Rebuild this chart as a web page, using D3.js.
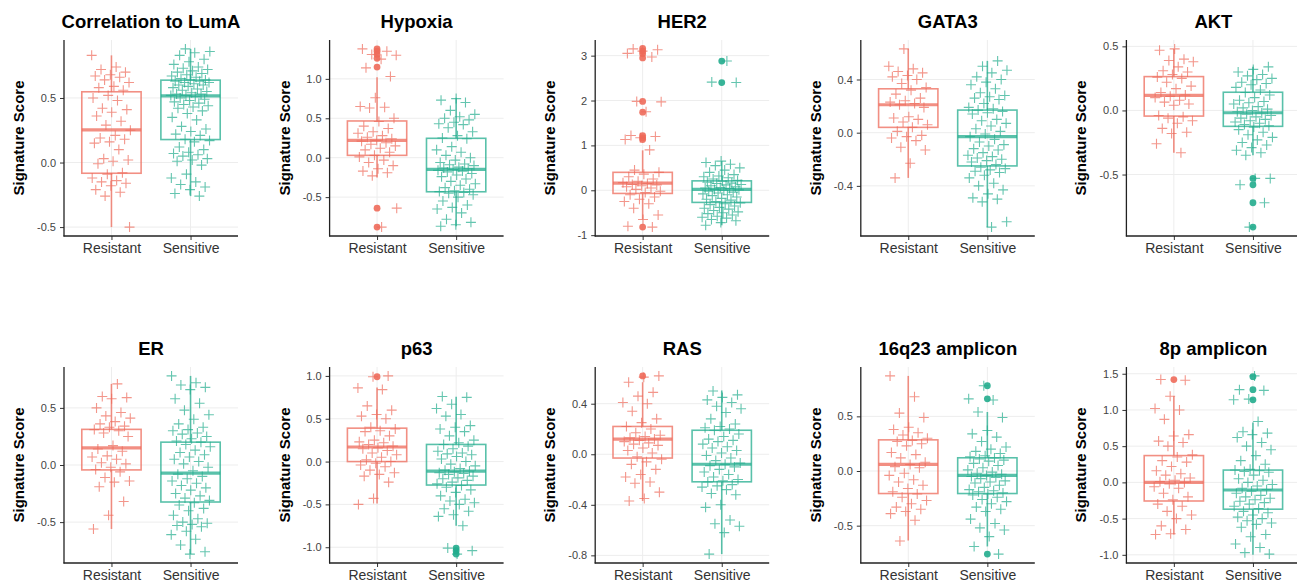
<!DOCTYPE html>
<html><head><meta charset="utf-8">
<script src="https://cdn.jsdelivr.net/npm/d3@7"></script>
<style>body{margin:0;background:#fff}svg{display:block;font-family:"Liberation Sans",Arial,sans-serif}</style>
</head><body><svg id="c" width="1297" height="587"></svg>
<script>
const groups = ["Resistant", "Sensitive"];
const colors = ["#EE6A5A", "#22AC8D"];
const titles = ["Correlation to LumA","Hypoxia","HER2","GATA3","AKT","ER","p63","RAS","16q23 amplicon","8p amplicon"];

// box stats: [whiskerLow, q1, median, q3, whiskerHigh]
const lumA_res = [0.83,0.74,0.72,0.70,0.68,0.67,0.66,0.64,0.62,0.59,0.58,0.56,0.52,0.50,0.48,0.42,0.41,0.39,0.36,0.32,0.29,0.25,0.21,0.19,0.18,0.16,0.15,0.10,0.03,0.02,0.01,-0.01,-0.08,-0.09,-0.12,-0.14,-0.15,-0.16,-0.18,-0.21,-0.23,-0.26,-0.50];
const lumA_sen = [0.88,0.86,0.85,0.83,0.80,0.78,0.76,0.74,0.73,0.72,0.71,0.70,0.69,0.68,0.67,0.66,0.65,0.64,0.64,0.63,0.63,0.62,0.62,0.61,0.60,0.60,0.59,0.58,0.57,0.56,0.55,0.54,0.53,0.53,0.52,0.52,0.51,0.50,0.49,0.48,0.47,0.46,0.45,0.44,0.43,0.42,0.40,0.38,0.35,0.33,0.28,0.26,0.24,0.22,0.21,0.18,0.17,0.16,0.12,0.10,0.08,0.07,0.06,0.05,0.03,0.02,0.01,-0.02,-0.09,-0.12,-0.15,-0.17,-0.19,-0.21,-0.24,-0.26];
const lumA_resBox = [-0.50,-0.083,0.253,0.548,0.83];
const lumA_senBox = [-0.26,0.178,0.517,0.638,0.88];
const lumA_resOut = [];
const lumA_senOut = [];
const lumA_ticks = [-0.5,0,0.5];

const hyp_res = [1.38,1.35,1.31,1.30,1.25,1.14,1.03,0.76,0.65,0.64,0.63,0.50,0.46,0.40,0.37,0.33,0.31,0.28,0.26,0.24,0.22,0.21,0.19,0.17,0.15,0.12,0.10,0.07,0.03,0.01,-0.03,-0.06,-0.10,-0.14,-0.17,-0.19,-0.23,-0.64,-0.88];
const hyp_sen = [0.75,0.73,0.70,0.60,0.55,0.52,0.50,0.48,0.45,0.43,0.42,0.38,0.33,0.28,0.25,0.24,0.14,0.10,0.07,0.03,0.00,-0.03,-0.06,-0.08,-0.09,-0.10,-0.12,-0.13,-0.14,-0.15,-0.16,-0.17,-0.18,-0.20,-0.22,-0.24,-0.27,-0.30,-0.33,-0.35,-0.38,-0.40,-0.42,-0.43,-0.44,-0.45,-0.47,-0.50,-0.55,-0.60,-0.63,-0.65,-0.70,-0.78,-0.82,-0.85,-0.87];
const hyp_resBox = [-0.25,0.03,0.22,0.466,1.02];
const hyp_senBox = [-0.87,-0.432,-0.148,0.246,0.76];
const hyp_resOut = [1.38,1.35,1.31,1.26,1.15,-0.64,-0.88];
const hyp_senOut = [];
const hyp_ticks = [-0.5,0,0.5,1.0];

const her2_res = [3.15,3.13,3.10,3.05,2.97,1.98,1.97,1.75,1.22,1.20,1.17,1.13,0.90,0.45,0.40,0.36,0.30,0.25,0.20,0.17,0.15,0.13,0.12,0.10,0.08,0.05,0.02,-0.02,-0.05,-0.10,-0.15,-0.20,-0.25,-0.30,-0.40,-0.55,-0.65,-0.80,-0.82];
const her2_sen = [2.88,2.41,2.40,0.65,0.62,0.58,0.55,0.50,0.45,0.40,0.35,0.32,0.30,0.28,0.25,0.22,0.20,0.18,0.16,0.15,0.13,0.12,0.10,0.08,0.06,0.05,0.04,0.02,0.01,0.00,-0.02,-0.04,-0.06,-0.08,-0.10,-0.12,-0.15,-0.18,-0.20,-0.22,-0.25,-0.28,-0.30,-0.32,-0.35,-0.38,-0.40,-0.42,-0.45,-0.48,-0.50,-0.52,-0.55,-0.58,-0.60,-0.62,-0.65,-0.68,-0.72,-0.78];
const her2_resBox = [-0.65,-0.07,0.16,0.40,0.89];
const her2_senBox = [-0.78,-0.27,0.02,0.21,0.65];
const her2_resOut = [3.16,3.10,3.04,2.95,1.98,1.74,1.22,1.17,1.13,-0.82];
const her2_senOut = [2.88,2.40];
const her2_ticks = [-1,0,1,2,3];

const gata3_res = [0.63,0.50,0.48,0.46,0.45,0.43,0.42,0.40,0.37,0.34,0.32,0.29,0.26,0.24,0.23,0.22,0.21,0.19,0.12,0.11,0.10,0.08,0.06,0.04,0.01,-0.02,-0.03,-0.04,-0.06,-0.11,-0.13,-0.23,-0.34];
const gata3_sen = [0.54,0.50,0.47,0.45,0.42,0.40,0.38,0.36,0.33,0.30,0.28,0.27,0.26,0.25,0.22,0.19,0.18,0.17,0.16,0.15,0.14,0.10,0.09,0.07,0.05,0.03,0.01,-0.01,-0.03,-0.05,-0.07,-0.09,-0.10,-0.12,-0.13,-0.15,-0.17,-0.18,-0.19,-0.20,-0.21,-0.22,-0.24,-0.26,-0.27,-0.28,-0.29,-0.30,-0.32,-0.34,-0.38,-0.40,-0.43,-0.46,-0.49,-0.50,-0.52,-0.67,-0.71];
const gata3_resBox = [-0.34,0.04,0.21,0.33,0.63];
const gata3_senBox = [-0.71,-0.25,-0.03,0.17,0.54];
const gata3_resOut = [];
const gata3_senOut = [];
const gata3_ticks = [-0.4,0,0.4];

const akt_res = [0.48,0.47,0.40,0.39,0.38,0.34,0.31,0.30,0.28,0.26,0.25,0.22,0.19,0.17,0.14,0.12,0.11,0.10,0.08,0.065,0.05,0.04,-0.04,-0.05,-0.06,-0.08,-0.10,-0.14,-0.17,-0.18,-0.26,-0.33];
const akt_sen = [0.34,0.32,0.30,0.28,0.27,0.25,0.24,0.22,0.21,0.20,0.18,0.16,0.14,0.12,0.10,0.08,0.07,0.06,0.05,0.03,0.02,0.01,0.00,-0.01,-0.02,-0.03,-0.04,-0.05,-0.06,-0.07,-0.08,-0.09,-0.10,-0.11,-0.12,-0.13,-0.15,-0.17,-0.19,-0.21,-0.23,-0.25,-0.27,-0.29,-0.31,-0.33,-0.35,-0.53,-0.53,-0.58,-0.72,-0.91];
const akt_resBox = [-0.33,-0.044,0.117,0.264,0.48];
const akt_senBox = [-0.35,-0.124,-0.018,0.142,0.34];
const akt_resOut = [];
const akt_senOut = [-0.53,-0.58,-0.72,-0.91];
const akt_ticks = [-0.5,0,0.5];

const er_res = [0.71,0.60,0.59,0.58,0.50,0.46,0.43,0.41,0.38,0.36,0.34,0.33,0.31,0.30,0.28,0.25,0.17,0.14,0.12,0.08,0.07,0.05,0.02,0.01,-0.02,-0.04,-0.06,-0.11,-0.14,-0.15,-0.19,-0.32,-0.44,-0.56];
const er_sen = [0.78,0.72,0.70,0.68,0.66,0.58,0.54,0.48,0.44,0.40,0.36,0.33,0.31,0.30,0.28,0.27,0.25,0.23,0.21,0.20,0.18,0.16,0.13,0.11,0.09,0.07,0.05,0.03,0.01,-0.02,-0.05,-0.08,-0.10,-0.12,-0.14,-0.16,-0.18,-0.20,-0.22,-0.25,-0.27,-0.29,-0.31,-0.33,-0.35,-0.38,-0.40,-0.44,-0.47,-0.50,-0.51,-0.52,-0.53,-0.54,-0.58,-0.61,-0.65,-0.70,-0.76,-0.78];
const er_resBox = [-0.56,-0.043,0.15,0.312,0.71];
const er_senBox = [-0.78,-0.324,-0.072,0.20,0.78];
const er_resOut = [];
const er_senOut = [];
const er_ticks = [-0.5,0,0.5];

const p63_res = [1.0,0.99,0.86,0.84,0.65,0.60,0.55,0.53,0.50,0.40,0.38,0.36,0.35,0.30,0.25,0.23,0.22,0.20,0.18,0.16,0.15,0.13,0.10,0.08,0.05,0.02,0.00,-0.02,-0.04,-0.06,-0.10,-0.13,-0.15,-0.17,-0.24,-0.43,-0.50];
const p63_sen = [0.76,0.75,0.67,0.62,0.55,0.53,0.42,0.40,0.38,0.35,0.30,0.25,0.22,0.20,0.18,0.15,0.12,0.10,0.09,0.08,0.06,0.03,0.00,-0.03,-0.05,-0.08,-0.10,-0.11,-0.12,-0.13,-0.14,-0.15,-0.17,-0.19,-0.20,-0.22,-0.24,-0.26,-0.28,-0.30,-0.33,-0.36,-0.40,-0.44,-0.46,-0.48,-0.50,-0.55,-0.58,-0.62,-0.64,-0.75,-1.01,-1.04,-1.08];
const p63_resBox = [-0.49,0.0,0.17,0.39,0.865];
const p63_senBox = [-0.75,-0.274,-0.112,0.20,0.757];
const p63_resOut = [0.99];
const p63_senOut = [-1.01,-1.04,-1.08];
const p63_ticks = [-1.0,-0.5,0,0.5,1.0];

const ras_res = [0.62,0.61,0.57,0.49,0.46,0.41,0.40,0.34,0.28,0.25,0.22,0.20,0.17,0.15,0.14,0.13,0.12,0.11,0.10,0.09,0.08,0.07,0.05,0.03,0.01,-0.02,-0.04,-0.06,-0.08,-0.12,-0.16,-0.18,-0.22,-0.23,-0.30,-0.35,-0.37];
const ras_sen = [0.50,0.47,0.45,0.43,0.41,0.38,0.36,0.33,0.28,0.24,0.22,0.21,0.20,0.19,0.16,0.14,0.12,0.11,0.10,0.08,0.06,0.05,0.03,0.01,-0.01,-0.03,-0.05,-0.07,-0.08,-0.09,-0.10,-0.12,-0.14,-0.16,-0.18,-0.20,-0.21,-0.22,-0.24,-0.25,-0.26,-0.28,-0.31,-0.32,-0.40,-0.42,-0.52,-0.55,-0.57,-0.62,-0.79];
const ras_resBox = [-0.37,-0.03,0.12,0.22,0.57];
const ras_senBox = [-0.79,-0.218,-0.079,0.19,0.505];
const ras_resOut = [0.62];
const ras_senOut = [];
const ras_ticks = [-0.8,-0.4,0,0.4];

const q16_res = [0.87,0.68,0.53,0.49,0.40,0.38,0.35,0.33,0.30,0.28,0.27,0.25,0.23,0.17,0.15,0.12,0.08,0.06,0.04,0.03,-0.02,-0.04,-0.08,-0.10,-0.13,-0.16,-0.19,-0.21,-0.24,-0.27,-0.30,-0.33,-0.35,-0.37,-0.39,-0.45,-0.64];
const q16_sen = [0.78,0.66,0.65,0.54,0.49,0.37,0.34,0.31,0.27,0.22,0.20,0.18,0.16,0.14,0.13,0.12,0.11,0.10,0.09,0.07,0.05,0.03,0.01,-0.01,-0.02,-0.03,-0.04,-0.05,-0.06,-0.07,-0.09,-0.10,-0.11,-0.13,-0.15,-0.17,-0.18,-0.19,-0.20,-0.21,-0.22,-0.24,-0.26,-0.28,-0.30,-0.33,-0.35,-0.37,-0.44,-0.48,-0.52,-0.54,-0.60,-0.69,-0.76];
const q16_resBox = [-0.636,-0.206,0.06,0.285,0.87];
const q16_senBox = [-0.69,-0.206,-0.04,0.121,0.54];
const q16_resOut = [];
const q16_senOut = [0.78,0.66,-0.76];
const q16_ticks = [-0.5,0,0.5];

const p8_res = [1.42,1.41,1.19,1.02,1.00,0.87,0.66,0.64,0.57,0.55,0.50,0.38,0.35,0.30,0.28,0.22,0.16,0.12,0.10,0.06,0.03,0.01,0.00,-0.02,-0.06,-0.08,-0.15,-0.20,-0.24,-0.30,-0.33,-0.40,-0.45,-0.50,-0.60,-0.65,-0.71,-0.72];
const p8_sen = [1.47,1.28,1.27,1.15,1.14,0.84,0.70,0.68,0.66,0.62,0.55,0.50,0.45,0.37,0.30,0.25,0.18,0.17,0.16,0.15,0.14,0.10,0.05,0.03,0.00,-0.03,-0.05,-0.08,-0.10,-0.12,-0.15,-0.18,-0.20,-0.22,-0.24,-0.26,-0.28,-0.30,-0.33,-0.36,-0.40,-0.42,-0.45,-0.48,-0.50,-0.53,-0.56,-0.58,-0.62,-0.72,-0.75,-0.85,-0.90,-0.97,-0.99];
const p8_resBox = [-0.72,-0.257,0.0,0.37,1.19];
const p8_senBox = [-1.0,-0.37,-0.105,0.17,0.826];
const p8_resOut = [1.42];
const p8_senOut = [1.46,1.28,1.14];
const p8_ticks = [-1.0,-0.5,0,0.5,1.0,1.5];

const panels = [
  [lumA_res,lumA_sen,lumA_resBox,lumA_senBox,lumA_resOut,lumA_senOut,lumA_ticks,".1f"],
  [hyp_res,hyp_sen,hyp_resBox,hyp_senBox,hyp_resOut,hyp_senOut,hyp_ticks,".1f"],
  [her2_res,her2_sen,her2_resBox,her2_senBox,her2_resOut,her2_senOut,her2_ticks,"d"],
  [gata3_res,gata3_sen,gata3_resBox,gata3_senBox,gata3_resOut,gata3_senOut,gata3_ticks,".1f"],
  [akt_res,akt_sen,akt_resBox,akt_senBox,akt_resOut,akt_senOut,akt_ticks,".1f"],
  [er_res,er_sen,er_resBox,er_senBox,er_resOut,er_senOut,er_ticks,".1f"],
  [p63_res,p63_sen,p63_resBox,p63_senBox,p63_resOut,p63_senOut,p63_ticks,".1f"],
  [ras_res,ras_sen,ras_resBox,ras_senBox,ras_resOut,ras_senOut,ras_ticks,".1f"],
  [q16_res,q16_sen,q16_resBox,q16_senBox,q16_resOut,q16_senOut,q16_ticks,".1f"],
  [p8_res,p8_sen,p8_resBox,p8_senBox,p8_resOut,p8_senOut,p8_ticks,".1f"]
].map((a,i)=>({title:titles[i],pts:[a[0],a[1]],box:[a[2],a[3]],out:[a[4],a[5]],ticks:a[6],fmt:a[7]}));

const svg = d3.select("#c");
const PW = 174, PH = 196, PITCH = 265.6;
const tops = [40, 367];

panels.forEach((p, k) => {
  const col = k % 5, row = Math.floor(k / 5);
  const left = 64 + col * PITCH, top = tops[row];
  const g = svg.append("g");
  const x = d3.scalePoint().domain(groups).range([left, left + PW]).padding(0.6);
  const step = x.step();
  const all = p.pts[0].concat(p.pts[1]);
  const ext = d3.extent(all);
  const pad = (ext[1] - ext[0]) * 0.05;
  const y = d3.scaleLinear().domain([ext[0] - pad, ext[1] + pad]).range([top + PH, top]);

  // grid
  g.selectAll(".hg").data(p.ticks).join("line")
    .attr("x1", left).attr("x2", left + PW).attr("y1", d => y(d)).attr("y2", d => y(d))
    .attr("stroke", "#EDEDED").attr("stroke-width", 1);
  g.selectAll(".vg").data(groups).join("line")
    .attr("x1", d => x(d)).attr("x2", d => x(d)).attr("y1", top).attr("y2", top + PH)
    .attr("stroke", "#EDEDED").attr("stroke-width", 1);

  const bw = step * 0.75;
  groups.forEach((grp, gi) => {
    const b = p.box[gi], cx = x(grp), col = colors[gi];
    const bg = g.append("g").attr("stroke", col).attr("fill", "none").attr("stroke-opacity", 0.75);
    bg.append("line").attr("x1", cx).attr("x2", cx).attr("y1", y(b[0])).attr("y2", y(b[1])).attr("stroke-width", 1.6);
    bg.append("line").attr("x1", cx).attr("x2", cx).attr("y1", y(b[3])).attr("y2", y(b[4])).attr("stroke-width", 1.6);
    bg.append("rect").attr("x", cx - bw / 2).attr("width", bw).attr("y", y(b[3])).attr("height", y(b[1]) - y(b[3])).attr("stroke-width", 1.6);
    bg.append("line").attr("x1", cx - bw / 2).attr("x2", cx + bw / 2).attr("y1", y(b[2])).attr("y2", y(b[2])).attr("stroke-width", 3.2);
    // outliers
    g.selectAll(null).data(p.out[gi]).join("circle")
      .attr("cx", cx).attr("cy", d => y(d)).attr("r", 3.4).attr("fill", col).attr("fill-opacity", 0.9);
    // jittered points (deterministic jitter)
    const s = 5;
    g.selectAll(null).data(p.pts[gi]).join("path")
      .attr("transform", (d, i) => {
        const j = (((i * 0.6180339887 + gi * 0.37 + k * 0.13) % 1) - 0.5) * 0.5 * step;
        return `translate(${cx + j},${y(d)})`;
      })
      .attr("d", `M${-s},0H${s}M0,${-s}V${s}`)
      .attr("stroke", col).attr("stroke-opacity", 0.7).attr("stroke-width", 1.1).attr("fill", "none");
  });

  // axes
  const fmt = d3.format(p.fmt);
  const ya = g.append("g").attr("transform", `translate(${left},0)`)
    .call(d3.axisLeft(y).tickValues(p.ticks).tickFormat(d => fmt(d).replace("−", "-")).tickSize(4).tickPadding(4));
  ya.select(".domain").remove();
  ya.selectAll(".tick line").attr("stroke", "#333");
  ya.selectAll(".tick text").attr("fill", "#444").style("font-size", "11px").style("font-family", "Liberation Sans, Arial, sans-serif");
  const xa = g.append("g").attr("transform", `translate(0,${top + PH})`)
    .call(d3.axisBottom(x).tickSize(4).tickPadding(3));
  xa.select(".domain").remove();
  xa.selectAll(".tick line").attr("stroke", "#333");
  xa.selectAll(".tick text").attr("fill", "#333").style("font-size", "14px").style("font-family", "Liberation Sans, Arial, sans-serif");
  g.append("line").attr("x1", left).attr("x2", left).attr("y1", top).attr("y2", top + PH + 0.5).attr("stroke", "#222").attr("stroke-width", 1.3);
  g.append("line").attr("x1", left - 0.5).attr("x2", left + PW).attr("y1", top + PH).attr("y2", top + PH).attr("stroke", "#222").attr("stroke-width", 1.3);

  // titles
  g.append("text").attr("x", left + PW / 2).attr("y", top - 12).attr("text-anchor", "middle")
    .style("font-size", "18.5px").style("font-weight", "bold").attr("fill", "#000").text(p.title);
  g.append("text").attr("transform", `translate(${left - 40},${top + PH / 2}) rotate(-90)`)
    .attr("text-anchor", "middle").style("font-size", "15px").style("font-weight", "bold").attr("fill", "#000").text("Signature Score");
});
</script></body></html>
